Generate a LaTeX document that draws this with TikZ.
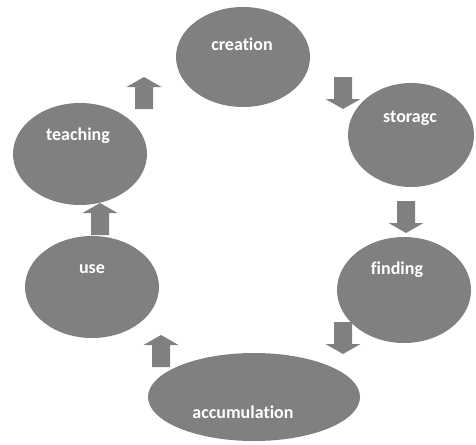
\documentclass[tikz,border=0pt]{standalone}
\usepackage{fontspec}
\setmainfont{Carlito}[Ligatures=NoCommon]
\usetikzlibrary{shapes.geometric}
\definecolor{cyclegrey}{HTML}{808080}
\tikzset{
  stage/.style={ellipse, fill=cyclegrey, draw=none, inner sep=0pt},
  stagetext/.style={text=white, font=\bfseries\fontsize{18}{21}\selectfont, inner sep=0pt},
  blockarrow/.style={fill=cyclegrey, draw=none}
}
% block arrow from the tail centre (#1,#2); #3 = +1 points down, -1 points up
\newcommand\cycleblockarrow[3]{%
  \fill[blockarrow] (#1,#2) ++(-9,0) -- ++(18,0) -- ++(0,#3*22) -- ++(8.5,0)
    -- ++(-17.5,#3*10) -- ++(-17.5,-#3*10) -- ++(8.5,0) -- cycle;
}
\begin{document}
\begin{tikzpicture}[x=1pt, y=-1pt]
\useasboundingbox (0,0) rectangle (476,444);

% stages of the cycle
\node[stage, minimum width=134pt, minimum height=100pt] (creation) at (243,57) {};
\node[stage, minimum width=126pt, minimum height=104pt] (storage) at (411,135) {};
\node[stage, minimum width=134pt, minimum height=106pt] (finding) at (404,290) {};
\node[stage, minimum width=212pt, minimum height=88pt] (accumulation) at (254,397) {};
\node[stage, minimum width=134pt, minimum height=102pt] (use) at (92,287) {};
\node[stage, minimum width=134pt, minimum height=102pt] (teaching) at (80,154) {};

% stage labels
\node[stagetext] (creationtxt) at (242,44) {creation};
\node[stagetext] (storagetxt) at (410,118) {storagc};
\node[stagetext] (findingtxt) at (397,270) {finding};
\node[stagetext] (accumulationtxt) at (243,412) {accumulation};
\node[stagetext] (usetxt) at (92,269) {use};
\node[stagetext] (teachingtxt) at (78,136) {teaching};

% block arrows between the stages
\cycleblockarrow{343}{77}{1}
\cycleblockarrow{406}{201}{1}
\cycleblockarrow{343}{322}{1}
\cycleblockarrow{161}{367}{-1}
\cycleblockarrow{100}{235}{-1}
\cycleblockarrow{144}{109}{-1}
\end{tikzpicture}
\end{document}
